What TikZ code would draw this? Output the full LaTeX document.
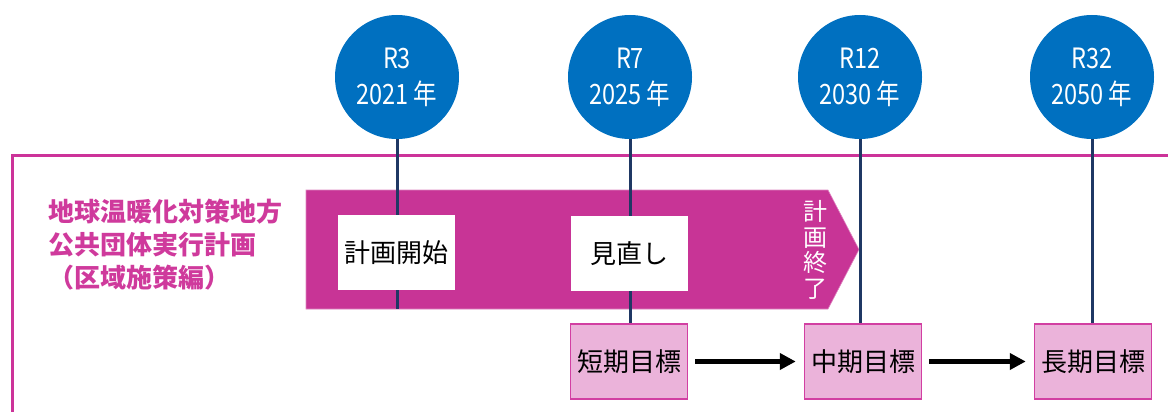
\documentclass[tikz,border=0pt]{standalone}
\usepackage{fontspec}
\setmainfont{Noto Sans CJK JP}
\newfontfamily\condfont[FakeStretch=0.84]{Noto Sans CJK JP}
\usetikzlibrary{arrows.meta}
\definecolor{circblue}{HTML}{0070C0}
\definecolor{navyline}{HTML}{1F3864}
\definecolor{bannermag}{HTML}{C83496}
\definecolor{framemag}{HTML}{CC3399}
\definecolor{goalfill}{HTML}{EBB3DA}
\definecolor{goaldraw}{HTML}{D23FA2}
\definecolor{titlecol}{HTML}{CF3A9C}
\pgfdeclarelayer{bglayer}
\pgfdeclarelayer{midlayer}
\pgfsetlayers{bglayer,midlayer,main}
\begin{document}
\begin{tikzpicture}[x=1pt,y=-1pt,
 yearcirc/.style={circle, fill=circblue, minimum size=124pt, inner sep=0pt, text=white, align=center, font=\condfont\fontsize{28}{36}\selectfont},
 tickline/.style={draw=navyline, line width=3pt},
 whitebox/.style={fill=white, minimum width=117pt, minimum height=75pt, inner sep=0pt, font=\fontsize{26}{30}\selectfont},
 goalbox/.style={fill=goalfill, draw=goaldraw, line width=1.5pt, minimum width=117pt, minimum height=75pt, inner sep=0pt, font=\fontsize{26}{30}\selectfont},
 goalarrow/.style={line width=5pt, -{Triangle[length=16pt,width=16pt]}, black, shorten <=7pt, shorten >=8pt},
 framestyle/.style={draw=framemag, line width=3pt},
 titlestyle/.style={text=titlecol, align=left, inner sep=0pt, anchor=west, font=\fontsize{26}{33}\selectfont\bfseries}
]
\useasboundingbox (0,0) rectangle (1168,412);

% year circles
\node[yearcirc] (c3)  at (397,77)  {R3\\2021 年};
\node[yearcirc] (c7)  at (630,77)  {R7\\2025 年};
\node[yearcirc] (c12) at (860,77)  {R12\\2030 年};
\node[yearcirc] (c32) at (1092,77) {R32\\2050 年};

% title
\node[titlestyle] (title) at (48,245) {地球温暖化対策地方\\公共団体実行計画\\（区域施策編）};

% boxes on banner
\node[whitebox] (start)  at (396.5,252.5) {計画開始};
\node[whitebox] (review) at (629.5,253.5) {見直し};
\node[text=white, align=center, inner sep=0pt, font=\fontsize{24}{25.5}\selectfont] (endlbl) at (815,250) {計\\画\\終\\了};

% goal boxes
\node[goalbox] (g1) at (629,361.5)  {短期目標};
\node[goalbox] (g2) at (863,361.5)  {中期目標};
\node[goalbox] (g3) at (1093,361.5) {長期目標};

\draw[goalarrow] (g1.east) -- (g2.west);
\draw[goalarrow] (g2.east) -- (g3.west);

\coordinate (b3) at (397,309);

\begin{pgfonlayer}{bglayer}
  \draw[framestyle] (1170,155) -- (12,155) -- (12,414);
  \fill[bannermag, draw=bannermag!60!white, line width=0.6pt]
    (306,190) -- (828,190) -- (859,249.5) -- (828,309) -- (306,309) -- cycle;
\end{pgfonlayer}

\begin{pgfonlayer}{midlayer}
  \draw[tickline] (c3.south) -- (b3);
  \draw[tickline] (c7.south) -- (c7.south |- g1.north);
  \draw[tickline] (c12.south) -- (c12.south |- g2.north);
  \draw[tickline] (c32.south) -- (c32.south |- g3.north);
\end{pgfonlayer}
\end{tikzpicture}
\end{document}
